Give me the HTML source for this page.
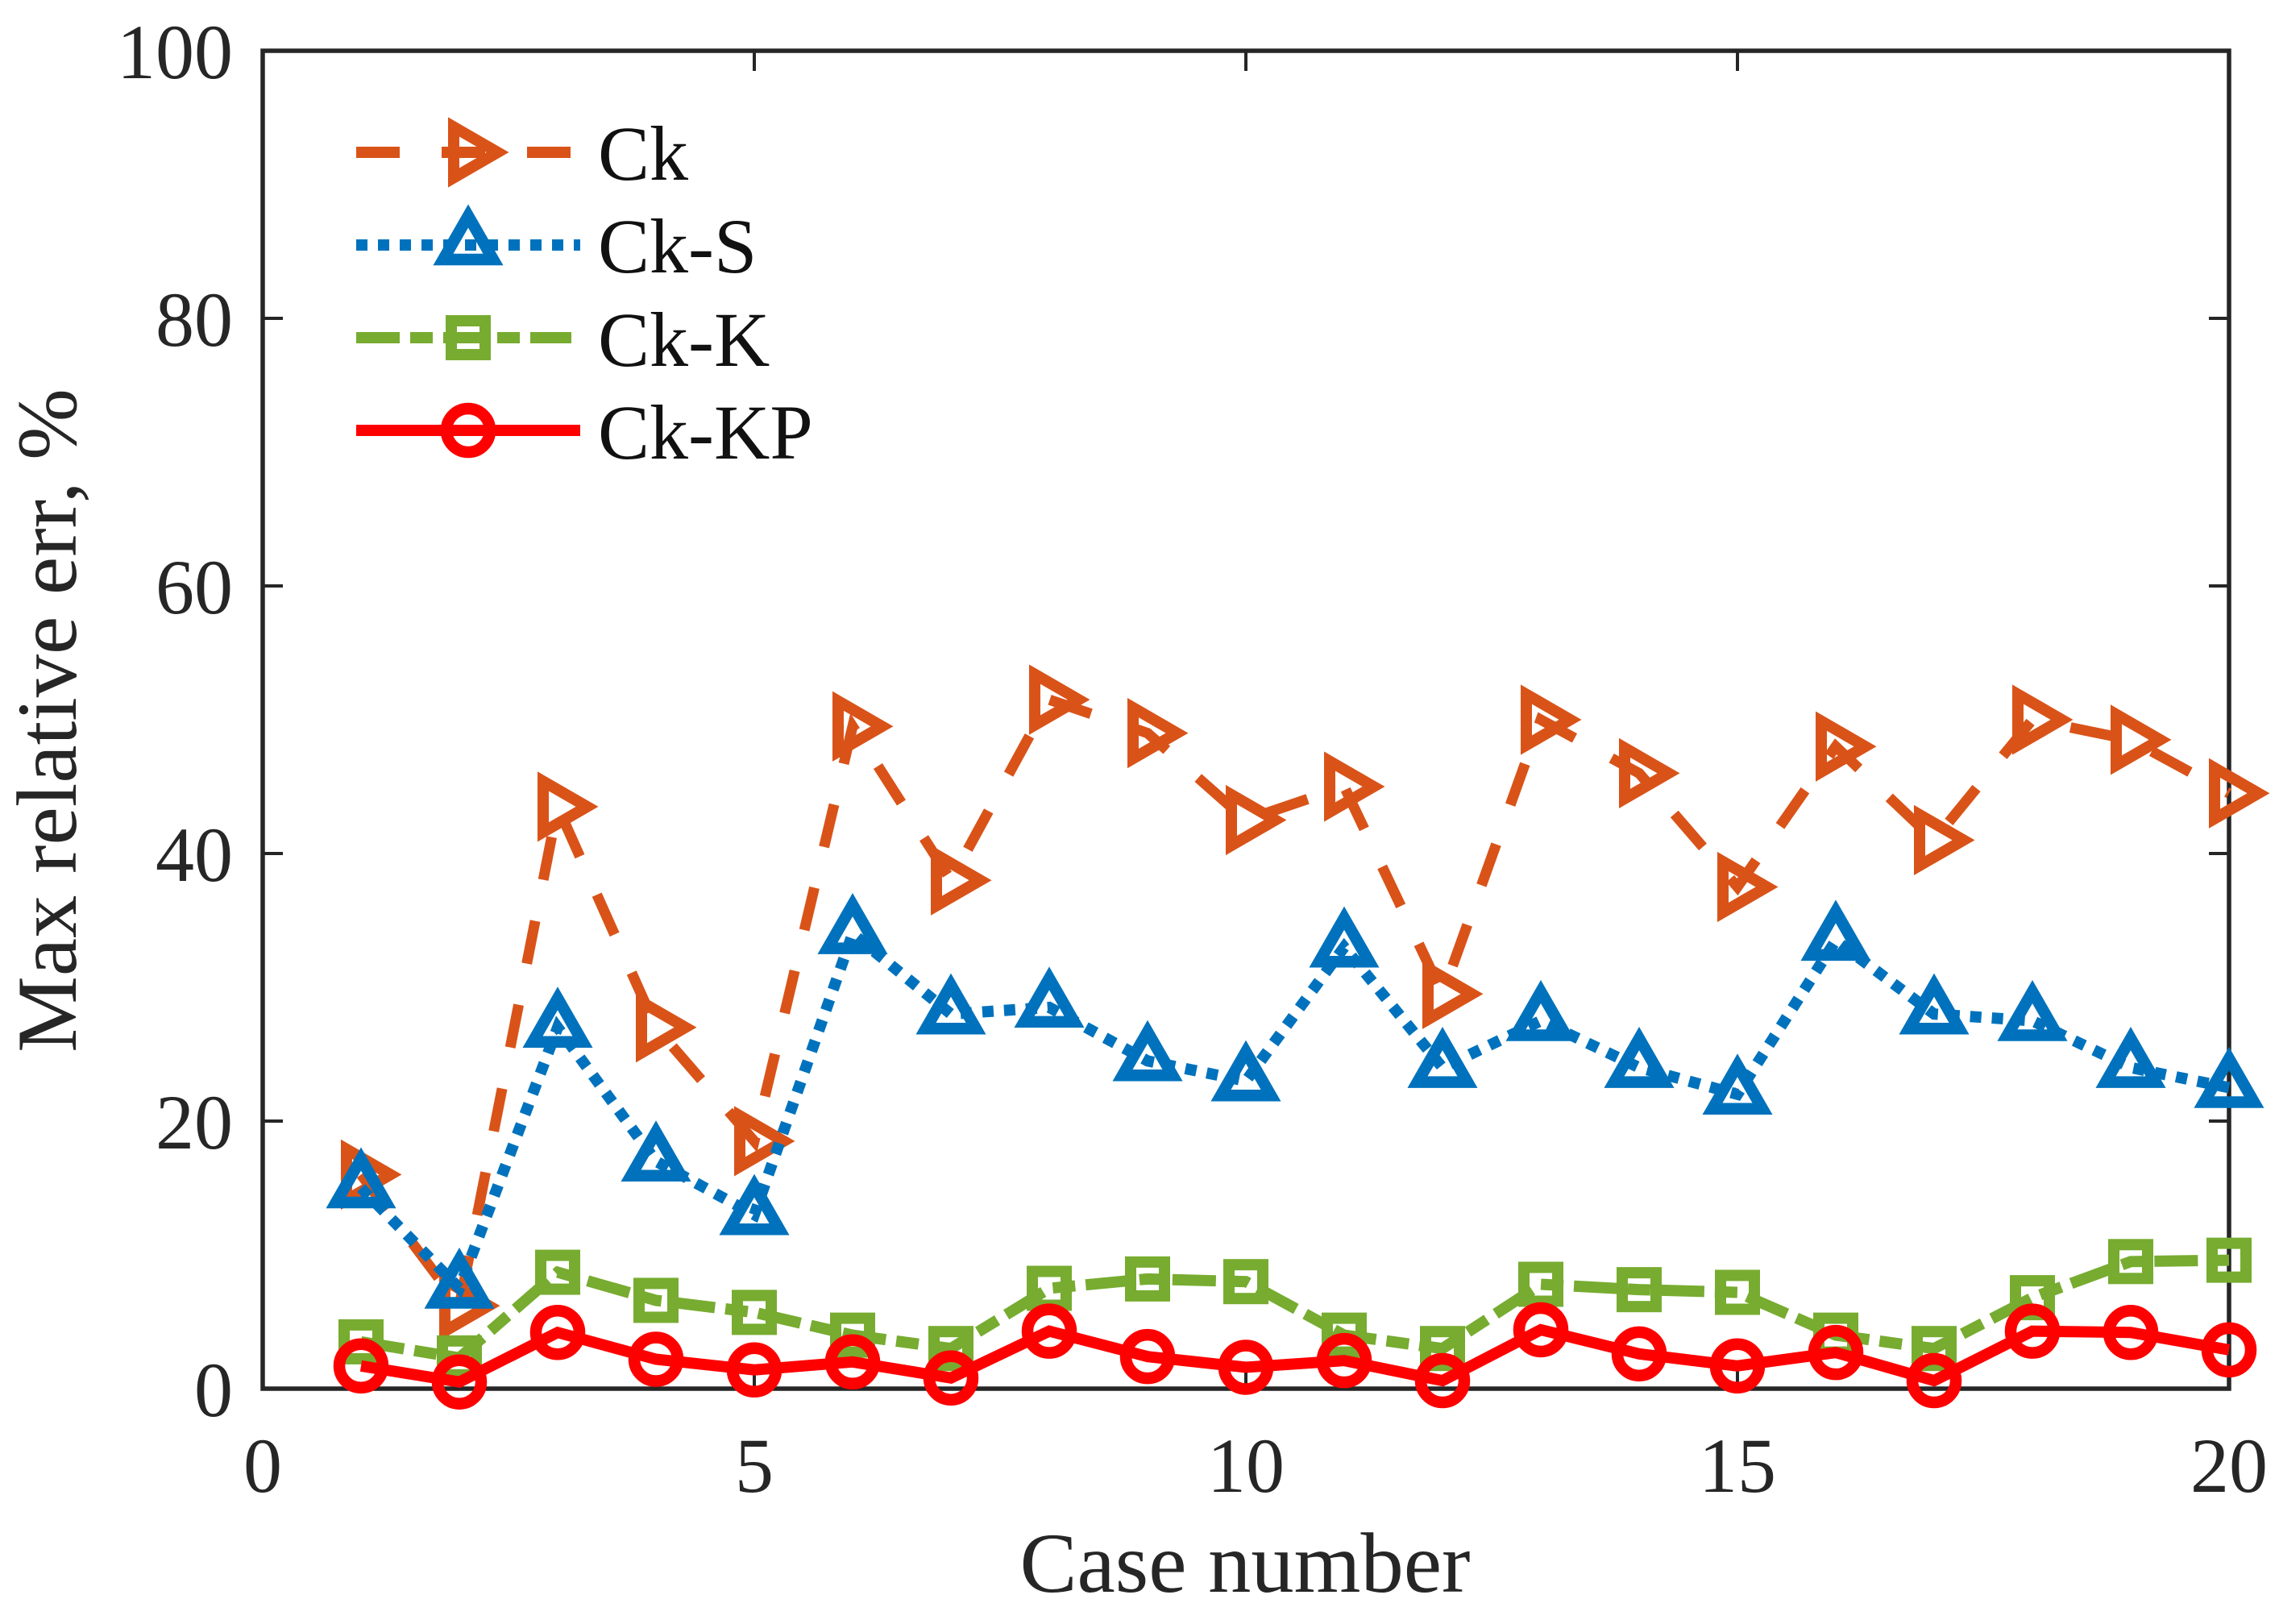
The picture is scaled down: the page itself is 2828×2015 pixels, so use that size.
<!DOCTYPE html>
<html lang="en">
<head>
<meta charset="utf-8">
<title>Max relative err by case number</title>
<style>
html,body{margin:0;padding:0;background:#fff;}
svg{display:block;}
text{font-family:"Liberation Serif",serif;}
</style>
</head>
<body>
<svg id="chart" xmlns="http://www.w3.org/2000/svg" width="2828" height="2015" viewBox="0 0 2828 2015">
  <rect x="0" y="0" width="2828" height="2015" fill="#fff"/>
  <g id="axes"></g>
  <g id="series"></g>
  <g id="legend"></g>
  <text x="1545" y="1975" font-size="106.5" text-anchor="middle" fill="#262626">Case number</text>
  <text x="0" y="0" transform="translate(94 894) rotate(-90)" font-size="106.5" text-anchor="middle" fill="#262626">Max relative err, %</text>
</svg>
<script>
const caseNumbers = [1,2,3,4,5,6,7,8,9,10,11,12,13,14,15,16,17,18,19,20];
const ckValues = [16,6.2,43.5,27,18.5,49.5,38,51.5,49,42.5,45,29.5,50,46,37.5,48,41,50,48.5,44.5];
const ckSValues = [15,7.5,27,17,13,34,28,28.5,24.5,23,33,24,27.5,24,22,33.5,28,27.5,24,22.5];
const ckKValues = [3.5,2.3,8.7,6.6,5.7,4,3,7.5,8.2,8,4,3,7.8,7.4,7.2,4,3,6.8,9.5,9.6];
const ckKPValues = [1.7,0.5,4.2,2.2,1.4,2,0.8,4.3,2.4,1.6,2.1,0.6,4.4,2.6,1.7,2.7,0.6,4.3,4.2,2.9];
const xTickValues = [0,5,10,15,20];
const yTickValues = [0,20,40,60,80,100];
const seriesLabels = ['Ck','Ck-S','Ck-K','Ck-KP'];

const SVGNS = 'http://www.w3.org/2000/svg';
const plot = {left:326, right:2766, top:63, bottom:1723, xMin:0, xMax:20, yMin:0, yMax:100};
function xScale(v){ return plot.left + (v - plot.xMin) / (plot.xMax - plot.xMin) * (plot.right - plot.left); }
function yScale(v){ return plot.bottom - (v - plot.yMin) / (plot.yMax - plot.yMin) * (plot.bottom - plot.top); }
function make(tag, attrs, parent){
  const el = document.createElementNS(SVGNS, tag);
  for (const k in attrs) el.setAttribute(k, attrs[k]);
  parent.appendChild(el);
  return el;
}

const styles = [
  {values: ckValues, color:'#D95319', dash:'54 52', marker:'right', key:'ck', legendEnd:709, width:13},
  {values: ckSValues, color:'#0072BD', dash:'14 13', marker:'up', key:'ck-s', legendEnd:720, width:14},
  {values: ckKValues, color:'#77AC30', dash:'54 13 28 13', marker:'square', key:'ck-k', legendEnd:709, width:14},
  {values: ckKPValues, color:'#FF0000', dash:'none', marker:'circle', key:'ck-kp', legendEnd:720, width:14}
];

function drawMarker(parent, type, cx, cy, color, name){
  let el;
  if (type === 'right') {
    el = make('polygon', {points:[(cx-18)+','+(cy-31.5),(cx+36.5)+','+cy,(cx-18)+','+(cy+31.5)].join(' '), fill:'none', stroke:color, 'stroke-width':14, 'stroke-miterlimit':6}, parent);
  } else if (type === 'up') {
    el = make('polygon', {points:[(cx-31)+','+(cy+18),cx+','+(cy-36),(cx+31)+','+(cy+18)].join(' '), fill:'none', stroke:color, 'stroke-width':14.5, 'stroke-miterlimit':6}, parent);
  } else if (type === 'square') {
    el = make('rect', {x:cx-21, y:cy-21, width:42, height:42, fill:'none', stroke:color, 'stroke-width':14}, parent);
  } else {
    el = make('circle', {cx:cx, cy:cy, r:27, fill:'none', stroke:color, 'stroke-width':14.5}, parent);
  }
  
  
  return el;
}

const axes = document.getElementById('axes');
const frame = make('rect', {x:plot.left, y:plot.top, width:plot.right-plot.left, height:plot.bottom-plot.top, fill:'none', stroke:'#262626', 'stroke-width':5.5}, axes);



xTickValues.forEach(function(v){
  const x = xScale(v);
  const tickBottom = make('line', {x1:x, x2:x, y1:plot.bottom, y2:plot.bottom-25, stroke:'#262626', 'stroke-width':4}, axes);
  
  
  const tickTop = make('line', {x1:x, x2:x, y1:plot.top, y2:plot.top+25, stroke:'#262626', 'stroke-width':4}, axes);
  
  
  const label = make('text', {x:x, y:1851, 'font-size':96, 'text-anchor':'middle', fill:'#262626'}, axes);
  label.textContent = String(v);
  
  
});

yTickValues.forEach(function(v){
  const y = yScale(v);
  const tickLeft = make('line', {x1:plot.left, x2:plot.left+25, y1:y, y2:y, stroke:'#262626', 'stroke-width':4}, axes);
  
  
  const tickRight = make('line', {x1:plot.right, x2:plot.right-25, y1:y, y2:y, stroke:'#262626', 'stroke-width':4}, axes);
  
  
  const label = make('text', {x:289, y:y+34, 'font-size':96, 'text-anchor':'end', fill:'#262626'}, axes);
  label.textContent = String(v);
  
  
});

const seriesGroup = document.getElementById('series');
styles.forEach(function(s){
  const g = make('g', {}, seriesGroup);
  
  
  const pts = caseNumbers.map(function(c, i){ return xScale(c) + ',' + yScale(s.values[i]); }).join(' ');
  const line = make('polyline', {points:pts, fill:'none', stroke:s.color, 'stroke-width':s.width, 'stroke-dasharray':s.dash, 'stroke-linejoin':'miter'}, g);
  
  
  caseNumbers.forEach(function(c, i){
    drawMarker(g, s.marker, xScale(c), yScale(s.values[i]), s.color, 'marker-' + s.key + '-' + c);
  });
});

const legendGroup = document.getElementById('legend');
const legendLineY = [189,304,419,534];
const legendTextY = [223,338,454,569];
styles.forEach(function(s, i){
  const g = make('g', {}, legendGroup);
  
  
  const line = make('line', {x1:442, x2:s.legendEnd, y1:legendLineY[i], y2:legendLineY[i], stroke:s.color, 'stroke-width':14, 'stroke-dasharray':s.dash}, g);
  
  
  drawMarker(g, s.marker, 581, legendLineY[i], s.color, 'legend-marker-' + s.key);
  const t = make('text', {x:742, y:legendTextY[i], 'font-size':96, fill:'#111'}, g);
  t.textContent = seriesLabels[i];
  
  
});
</script>
</body>
</html>
